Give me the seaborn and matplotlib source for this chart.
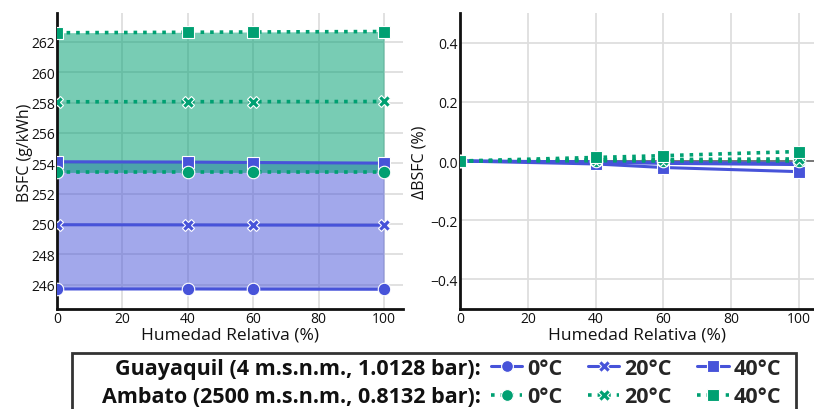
import matplotlib
matplotlib.use("Agg")
import matplotlib.pyplot as plt
from matplotlib.lines import Line2D
from matplotlib.patches import Rectangle
import seaborn as sns
import pandas as pd

# Relative humidity levels (%)
humedad = [0, 40, 60, 100]

# BSFC (g/kWh) - Guayaquil (4 m.s.n.m., 1.0128 bar)
bsfc_gye_0 = [245.72, 245.72, 245.71, 245.70]
bsfc_gye_20 = [249.95, 249.94, 249.93, 249.92]
bsfc_gye_40 = [254.10, 254.08, 254.05, 254.01]
# BSFC (g/kWh) - Ambato (2500 m.s.n.m., 0.8132 bar)
bsfc_amb_0 = [253.40, 253.40, 253.40, 253.40]
bsfc_amb_20 = [258.05, 258.06, 258.06, 258.07]
bsfc_amb_40 = [262.60, 262.63, 262.65, 262.68]

# Relative change of BSFC (%) with respect to 0 % humidity
dbsfc_gye_0 = [0.0, -0.003, -0.005, -0.008]
dbsfc_gye_20 = [0.0, -0.004, -0.008, -0.012]
dbsfc_gye_40 = [0.0, -0.010, -0.022, -0.036]
dbsfc_amb_0 = [0.0, 0.001, 0.000, 0.000]
dbsfc_amb_20 = [0.0, 0.004, 0.005, 0.007]
dbsfc_amb_40 = [0.0, 0.012, 0.018, 0.032]

temperaturas = ["0°C", "20°C", "40°C"]
sitios = ["Guayaquil (4 m.s.n.m., 1.0128 bar):", "Ambato (2500 m.s.n.m., 0.8132 bar):"]

AZUL = "#4753d9"
VERDE = "#00a072"
marcadores = ["o", "X", "s"]
FUENTE = ["Open Sans", "DejaVu Sans"]
TAM_LEYENDA = 15.5

sns.set_theme(style="whitegrid")
plt.rcParams["font.family"] = FUENTE

fig = plt.figure(figsize=(8.14, 4.10), dpi=100)
ax1 = fig.add_axes([57 / 814, 1 - 310 / 410, (403 - 57) / 814, (310 - 14) / 410])
ax2 = fig.add_axes([460 / 814, 1 - 310 / 410, (814 - 460) / 814, (310 - 14) / 410])

series_bsfc = {
    "gye": [bsfc_gye_0, bsfc_gye_20, bsfc_gye_40],
    "amb": [bsfc_amb_0, bsfc_amb_20, bsfc_amb_40],
}
series_dbsfc = {
    "gye": [dbsfc_gye_0, dbsfc_gye_20, dbsfc_gye_40],
    "amb": [dbsfc_amb_0, dbsfc_amb_20, dbsfc_amb_40],
}
estilo = {
    "gye": dict(color=AZUL, linestyle="-", linewidth=2.2),
    "amb": dict(color=VERDE, linestyle=":", linewidth=2.6),
}

# Shaded bands spanning the temperature range at each site
ax1.fill_between(humedad, bsfc_gye_0, bsfc_gye_40, color=AZUL, alpha=0.5, linewidth=0, zorder=1)
ax1.fill_between(humedad, bsfc_amb_0, bsfc_amb_40, color=VERDE, alpha=0.53, linewidth=0, zorder=1)

for ax, datos in ((ax1, series_bsfc), (ax2, series_dbsfc)):
    for sitio in ("gye", "amb"):
        for vals, m in zip(datos[sitio], marcadores):
            df = pd.DataFrame({"x": humedad, "y": vals})
            sns.lineplot(data=df, x="x", y="y", ax=ax, marker=m, markersize=9,
                         markeredgecolor="white", markeredgewidth=0.8,
                         zorder=3, **estilo[sitio])

ax2.axhline(0, color="#777777", linewidth=1.4, zorder=2)

ax1.set_xlim(0, 105.8)
ax1.set_ylim(244.4, 263.9)
ax1.set_yticks(range(246, 263, 2))
ax2.set_xlim(0, 104.4)
ax2.set_ylim(-0.5, 0.5)
ax2.set_yticks([-0.4, -0.2, 0.0, 0.2, 0.4])
ax2.set_yticklabels(["\u22120.4", "\u22120.2", "0.0", "0.2", "0.4"])

for ax in (ax1, ax2):
    ax.set_xticks([0, 20, 40, 60, 80, 100])
    ax.grid(True, color="#dedede", linewidth=1.3)
    ax.set_axisbelow(True)
    for s in ("top", "right"):
        ax.spines[s].set_visible(False)
    for s in ("left", "bottom"):
        ax.spines[s].set_color("#111111")
        ax.spines[s].set_linewidth(2)
    ax.tick_params(axis="both", length=0, pad=1.5, labelsize=10, labelcolor="#111111")
    ax.set_xlabel("Humedad Relativa (%)", fontsize=12.5, labelpad=0, color="#111111")

ax1.set_ylabel("BSFC (g/kWh)", fontsize=11.5, color="#111111")
ax1.yaxis.set_label_coords(-0.07, 0.53)
ax2.set_ylabel("\u0394BSFC (%)", fontsize=11.5, labelpad=2, color="#111111")

# Legend: one row per site, one entry per ambient temperature
handles = []
labels = []
for m, t in zip(marcadores, temperaturas):
    for sitio in ("gye", "amb"):
        handles.append(Line2D([], [], marker=m, markersize=8.5, markeredgecolor="white",
                              markeredgewidth=0.8, **estilo[sitio]))
        labels.append(t)

leyenda = fig.legend(handles, labels, ncol=3, frameon=False, loc="upper left",
                     bbox_to_anchor=(491 / 814, 1 - 359 / 410),
                     prop={"family": FUENTE, "weight": "bold", "size": TAM_LEYENDA},
                     handlelength=1.45, handletextpad=0.22, columnspacing=1.2,
                     labelspacing=0.33, borderpad=0, borderaxespad=0)

# Site names, right-aligned and vertically centred on each legend row
fig.canvas.draw()
renderer = fig.canvas.get_renderer()
inv = fig.transFigure.inverted()
filas = [leyenda.get_texts()[0], leyenda.get_texts()[1]]
for texto, fila in zip(sitios, filas):
    bb = fila.get_window_extent(renderer)
    yc = inv.transform((0, (bb.y0 + bb.y1) / 2))[1]
    fig.text(481 / 814, yc, texto, ha="right", va="center",
             fontsize=TAM_LEYENDA, fontweight="bold", color="#111111")

fig.add_artist(Rectangle((72 / 814, -0.05), (796 - 72) / 814, 0.05 + 1 - 354 / 410,
                         transform=fig.transFigure, fill=False,
                         edgecolor="#333333", linewidth=2))

fig.savefig("out.png", dpi=100)
